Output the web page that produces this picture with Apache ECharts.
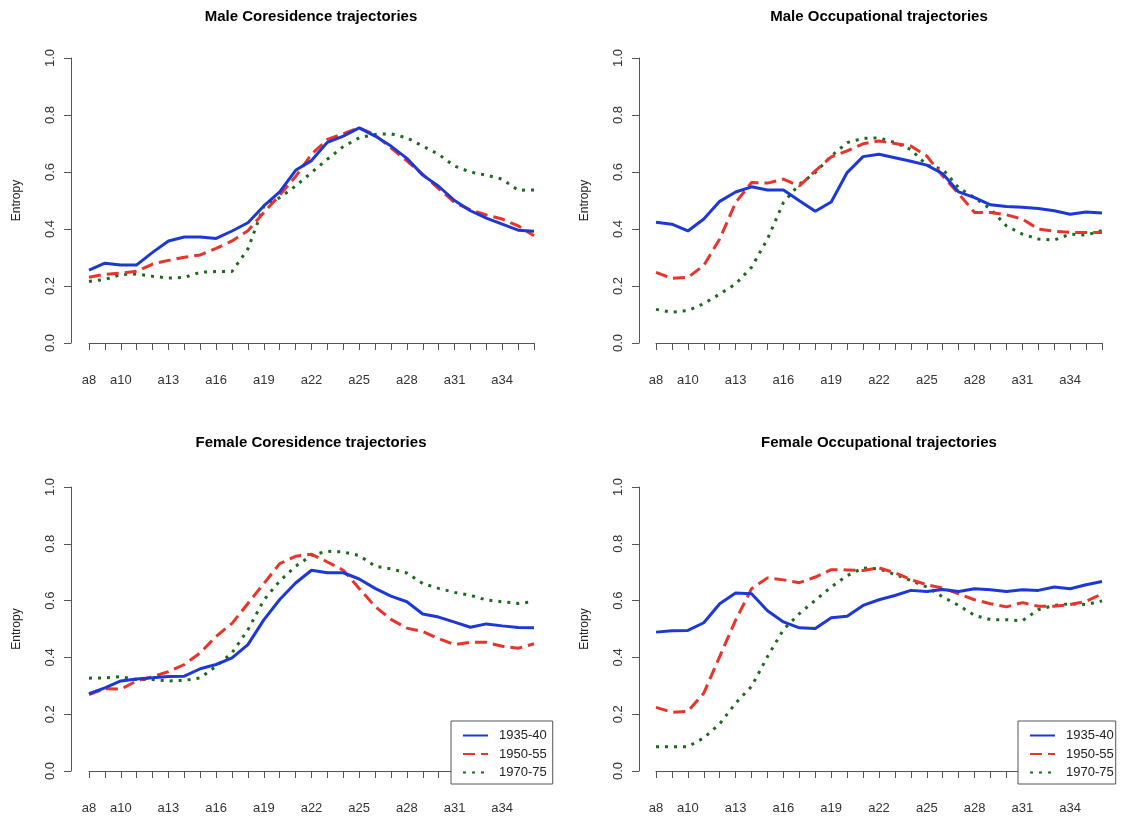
<!DOCTYPE html>
<html>
<head>
<meta charset="utf-8">
<title>Entropy trajectories</title>
<script src="https://cdn.jsdelivr.net/npm/echarts@6/dist/echarts.min.js"></script>
<style>
  html, body { margin: 0; padding: 0; background: #fff; }
  #chart { width: 1121px; height: 819px; }
</style>
</head>
<body>
<div id="chart"></div>
<script>
// ages on the x axis
var ages = ['a8','a9','a10','a11','a12','a13','a14','a15','a16','a17','a18','a19','a20','a21','a22',
            'a23','a24','a25','a26','a27','a28','a29','a30','a31','a32','a33','a34','a35','a36'];
// labels R actually printed (the others were dropped for overlap)
var shownLabels = ['a8','a10','a13','a16','a19','a22','a25','a28','a31','a34'];
var cohorts = ['1935-40', '1950-55', '1970-75'];

// Male coresidence
var maleCores3540 = [0.256,0.280,0.274,0.274,0.318,0.358,0.372,0.372,0.367,0.393,0.422,0.481,0.530,0.606,0.640,
                     0.704,0.726,0.755,0.726,0.691,0.648,0.589,0.550,0.500,0.464,0.438,0.417,0.396,0.392];
var maleCores5055 = [0.231,0.241,0.245,0.252,0.277,0.290,0.301,0.309,0.332,0.358,0.394,0.458,0.519,0.584,0.662,
                     0.714,0.734,0.755,0.730,0.685,0.639,0.592,0.542,0.493,0.467,0.449,0.435,0.411,0.376];
var maleCores7075 = [0.216,0.223,0.240,0.242,0.234,0.228,0.230,0.248,0.251,0.251,0.330,0.481,0.510,0.551,0.598,
                     0.645,0.689,0.720,0.732,0.734,0.720,0.691,0.662,0.621,0.600,0.589,0.575,0.536,0.537];

// Male occupational
var maleOcc3540 = [0.424,0.417,0.393,0.435,0.497,0.530,0.548,0.537,0.537,0.499,0.462,0.495,0.598,0.654,0.662,
                   0.650,0.638,0.624,0.594,0.530,0.510,0.485,0.479,0.476,0.472,0.464,0.452,0.460,0.456];
var maleOcc5055 = [0.248,0.227,0.230,0.272,0.365,0.493,0.563,0.561,0.575,0.551,0.604,0.653,0.674,0.699,0.709,
                   0.700,0.691,0.656,0.586,0.524,0.458,0.458,0.450,0.435,0.400,0.392,0.388,0.388,0.388];
var maleOcc7075 = [0.118,0.108,0.114,0.138,0.172,0.207,0.266,0.365,0.493,0.557,0.598,0.656,0.703,0.718,0.720,
                   0.703,0.679,0.624,0.610,0.545,0.510,0.470,0.411,0.382,0.365,0.361,0.382,0.379,0.394];

// Female coresidence
var femCores3540 = [0.272,0.293,0.317,0.324,0.328,0.333,0.334,0.360,0.375,0.398,0.445,0.532,0.604,0.662,0.707,
                    0.698,0.698,0.676,0.643,0.616,0.596,0.553,0.542,0.524,0.506,0.518,0.511,0.505,0.504];
var femCores5055 = [0.269,0.290,0.288,0.317,0.332,0.350,0.375,0.416,0.474,0.520,0.590,0.660,0.730,0.756,0.763,
                    0.736,0.707,0.643,0.579,0.534,0.503,0.491,0.466,0.445,0.453,0.453,0.439,0.432,0.448];
var femCores7075 = [0.327,0.328,0.332,0.322,0.322,0.317,0.319,0.328,0.369,0.416,0.497,0.602,0.669,0.721,0.759,
                    0.774,0.771,0.759,0.721,0.712,0.697,0.660,0.643,0.629,0.619,0.602,0.596,0.590,0.596];

// Female occupational
var femOcc3540 = [0.489,0.494,0.495,0.522,0.589,0.627,0.624,0.564,0.525,0.504,0.502,0.540,0.545,0.583,0.603,
                  0.618,0.636,0.632,0.639,0.632,0.642,0.638,0.632,0.638,0.636,0.648,0.642,0.656,0.667];
var femOcc5055 = [0.224,0.207,0.210,0.274,0.403,0.531,0.642,0.680,0.673,0.663,0.683,0.709,0.708,0.706,0.715,
                  0.698,0.674,0.656,0.644,0.624,0.603,0.589,0.578,0.593,0.580,0.580,0.586,0.597,0.624];
var femOcc7075 = [0.085,0.085,0.085,0.117,0.166,0.239,0.298,0.403,0.498,0.554,0.601,0.648,0.688,0.715,0.712,
                  0.692,0.671,0.648,0.613,0.583,0.548,0.533,0.533,0.529,0.568,0.583,0.589,0.586,0.599];

var panels = [
  { title: 'Male Coresidence trajectories',   lines: [maleCores3540, maleCores5055, maleCores7075] },
  { title: 'Male Occupational trajectories',  lines: [maleOcc3540, maleOcc5055, maleOcc7075] },
  { title: 'Female Coresidence trajectories', lines: [femCores3540, femCores5055, femCores7075] },
  { title: 'Female Occupational trajectories',lines: [femOcc3540, femOcc5055, femOcc7075] }
];

var colors = ['#1c38d8', '#e8342a', '#1d6a1d'];
var dashes = ['solid', [12, 6], [3, 6]];
var font = 'Liberation Sans, Arial, Helvetica, sans-serif';
var axisGray = '#555';

// plot boxes (left, top, width, height) and title centres
var boxes = [
  { left: 89,  top: 58,  width: 445, height: 285, yAxisAt: 71,  titleX: 311, titleY: 17 },
  { left: 656, top: 58,  width: 446, height: 285, yAxisAt: 639, titleX: 879, titleY: 17 },
  { left: 89,  top: 487, width: 445, height: 284, yAxisAt: 71,  titleX: 311, titleY: 443 },
  { left: 656, top: 487, width: 446, height: 284, yAxisAt: 639, titleX: 879, titleY: 443 }
];

var grid = [], xAxis = [], yAxis = [], series = [], graphic = [], legend = [];

panels.forEach(function (p, k) {
  var b = boxes[k];
  grid.push({ left: b.left, top: b.top, width: b.width, height: b.height, containLabel: false });
  xAxis.push({
    gridIndex: k, type: 'category', data: ages, boundaryGap: false, offset: 13,
    axisLine: { lineStyle: { color: axisGray, width: 1 } },
    axisTick: { show: true, interval: 0, length: 7, lineStyle: { color: axisGray } },
    axisLabel: {
      interval: function (i, v) { return shownLabels.indexOf(v) >= 0; },
      margin: 18, fontSize: 13, color: '#333', fontFamily: font
    },
    splitLine: { show: false }
  });
  yAxis.push({
    gridIndex: k, type: 'value', min: 0, max: 1, interval: 0.2, offset: b.left - b.yAxisAt,
    name: 'Entropy', nameLocation: 'middle', nameRotate: 90, nameGap: 48,
    nameTextStyle: { fontSize: 12, color: '#222', fontFamily: font },
    axisLine: { show: true, lineStyle: { color: axisGray, width: 1 } },
    axisTick: { show: true, length: 7, lineStyle: { color: axisGray } },
    axisLabel: {
      rotate: 90, margin: 14, fontSize: 13, color: '#333', fontFamily: font,
      formatter: function (v) { return v.toFixed(1); }
    },
    splitLine: { show: false }
  });
  p.lines.forEach(function (vals, j) {
    series.push({
      name: cohorts[j], type: 'line', xAxisIndex: k, yAxisIndex: k,
      data: vals, symbol: 'none', smooth: false, animation: false,
      lineStyle: { color: colors[j], width: 3, type: dashes[j] },
      itemStyle: { color: colors[j] },
      z: 3 - j
    });
  });
  graphic.push({
    type: 'text', x: b.titleX, y: b.titleY,
    style: { text: p.title, align: 'center', verticalAlign: 'middle',
             font: 'bold 15px ' + font, fill: '#000' }
  });
});

// legends in the two bottom panels
[{ left: 451, top: 721, padRight: 6 }, { left: 1018, top: 721, padRight: 2 }].forEach(function (pos) {
  legend.push({
    data: cohorts, orient: 'vertical', left: pos.left, top: pos.top,
    itemWidth: 25, itemHeight: 10, itemGap: 5.5,
    padding: [8, pos.padRight, 5, 11],
    borderColor: '#555', borderWidth: 1, backgroundColor: '#fff',
    itemStyle: { opacity: 0 },
    textStyle: { fontSize: 13, color: '#222', fontFamily: font, padding: [0, 0, 0, 6] },
    selectedMode: false
  });
});

var chart = echarts.init(document.getElementById('chart'), null, { renderer: 'canvas' });
chart.setOption({
  backgroundColor: '#fff',
  animation: false,
  grid: grid, xAxis: xAxis, yAxis: yAxis, series: series,
  legend: legend, graphic: graphic
});
</script>
</body>
</html>
